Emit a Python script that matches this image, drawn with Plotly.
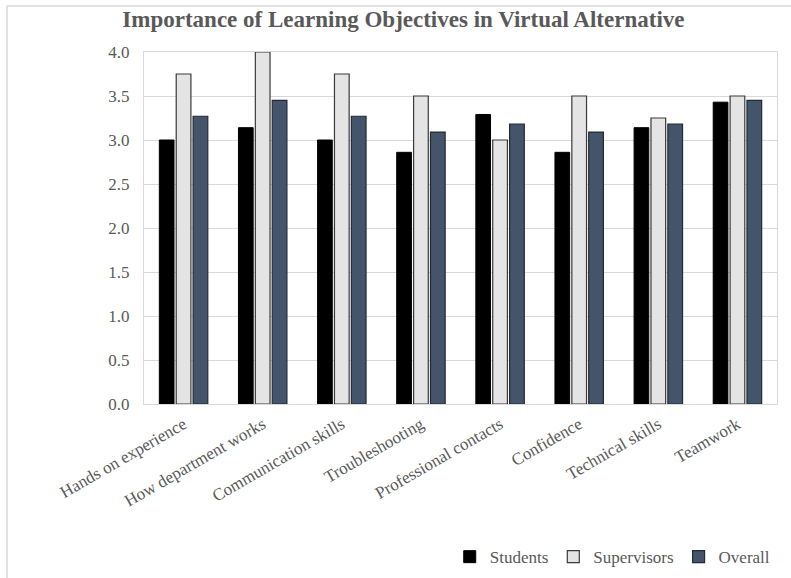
import plotly.graph_objects as go

categories = ["Hands on experience", "How department works", "Communication skills",
              "Troubleshooting", "Professional contacts", "Confidence",
              "Technical skills", "Teamwork"]
students = [3.00, 3.14, 3.00, 2.86, 3.29, 2.86, 3.14, 3.43]
supervisors = [3.75, 4.00, 3.75, 3.50, 3.00, 3.50, 3.25, 3.50]
overall = [3.27, 3.45, 3.27, 3.09, 3.18, 3.09, 3.18, 3.45]
y_ticks = [0.0, 0.5, 1.0, 1.5, 2.0, 2.5, 3.0, 3.5, 4.0]

FONT = "Liberation Serif, Times New Roman, serif"
GRAY = "#595959"

fig = go.Figure()
fig.add_trace(go.Bar(name="Students", x=categories, y=students,
                     marker=dict(color="#000000", line=dict(color="#000000", width=1))))
fig.add_trace(go.Bar(name="Supervisors", x=categories, y=supervisors,
                     marker=dict(color="#e4e4e4", line=dict(color="#3a3a3a", width=1.2))))
fig.add_trace(go.Bar(name="Overall", x=categories, y=overall,
                     marker=dict(color="#44546a", line=dict(color="#222a35", width=1.2))))

fig.update_layout(
    width=791, height=578,
    margin=dict(l=144, r=14, t=52, b=174, autoexpand=False),
    paper_bgcolor="white", plot_bgcolor="white",
    barmode="group", bargap=0.36, bargroupgap=0.13,
    font=dict(family=FONT, color=GRAY, size=17),
    title=dict(text="<b>Importance of Learning Objectives in Virtual Alternative</b>",
               x=0.51, xanchor="center", y=0.968, yanchor="middle",
               font=dict(family=FONT, size=23, color=GRAY)),
    legend=dict(orientation="h", x=0.998, xanchor="right", y=-0.435, yanchor="middle",
                font=dict(family=FONT, size=17, color=GRAY), itemwidth=30,
                traceorder="normal"),
    showlegend=True,
)
fig.update_xaxes(tickangle=-30, showline=True, linecolor="#d9d9d9", linewidth=1,
                 mirror=True, ticks="outside", ticklen=3, tickcolor="rgba(0,0,0,0)",
                 tickfont=dict(family=FONT, size=17, color=GRAY))
fig.update_yaxes(range=[0, 4.0], tickvals=y_ticks,
                 ticktext=[f"{v:.1f}" for v in y_ticks],
                 showgrid=True, gridcolor="#d9d9d9", gridwidth=1,
                 showline=True, linecolor="#d9d9d9", mirror=True, zeroline=False,
                 ticks="", ticklabelstandoff=10,
                 tickfont=dict(family=FONT, size=17, color=GRAY))

# outer chart border (top and left visible in the reference)
fig.add_shape(type="line", xref="paper", yref="paper", x0=-137/633, x1=1.1, y0=1 + 46/352, y1=1 + 46/352,
              line=dict(color="#d9d9d9", width=1.5))
fig.add_shape(type="line", xref="paper", yref="paper", x0=-137/633, x1=-137/633, y0=-0.6, y1=1 + 46/352,
              line=dict(color="#d9d9d9", width=1.5))

fig.write_html("out.html")
